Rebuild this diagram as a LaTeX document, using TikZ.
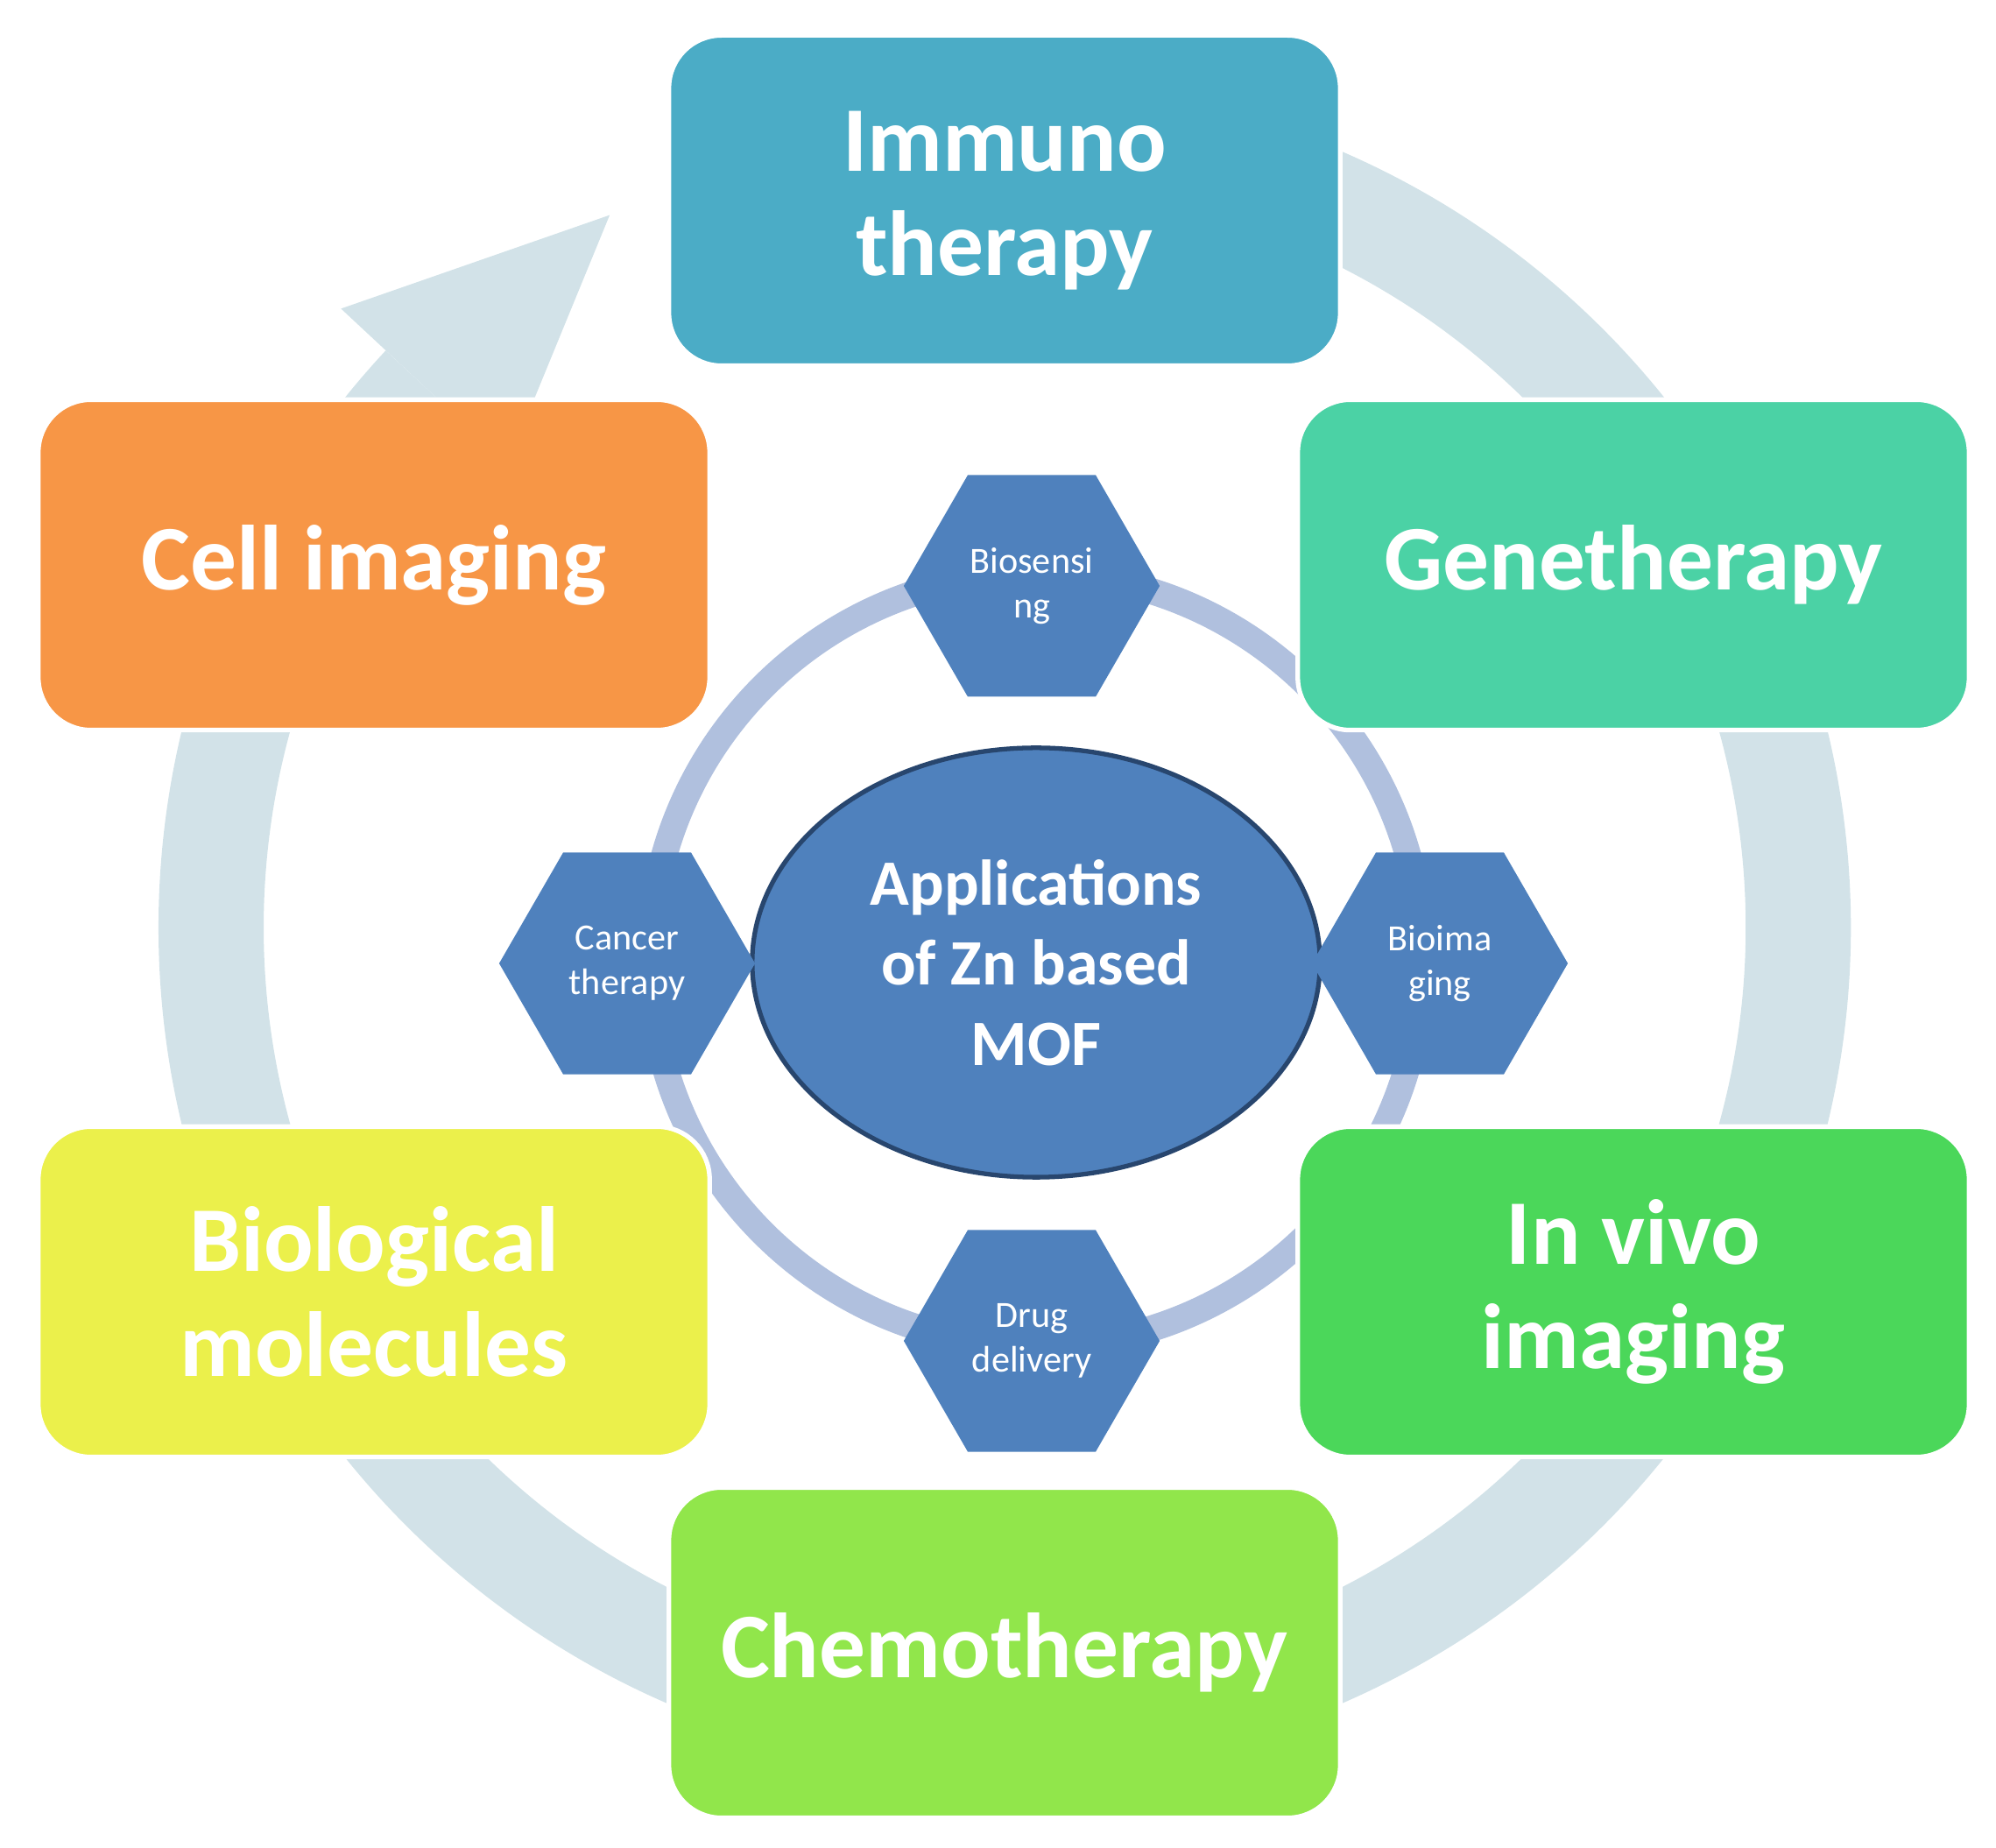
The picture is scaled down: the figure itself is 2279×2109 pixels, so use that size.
\documentclass[tikz,border=0pt]{standalone}
\usepackage{fontspec}
\setmainfont{Carlito}
\usetikzlibrary{shapes.geometric}
\definecolor{ringc}{RGB}{210,226,232}
\definecolor{iring}{RGB}{176,192,222}
\definecolor{hexc}{RGB}{79,129,189}
\definecolor{ellb}{RGB}{40,70,110}
\definecolor{cimm}{RGB}{75,172,198}
\definecolor{ccell}{RGB}{247,150,70}
\definecolor{cgene}{RGB}{75,210,165}
\definecolor{cbio}{RGB}{235,240,75}
\definecolor{cviv}{RGB}{75,215,90}
\definecolor{cchem}{RGB}{145,230,75}
\tikzset{
 box/.style={draw=white,line width=1.5pt,rounded corners=0.6cm,minimum width=7.66cm,minimum height=3.77cm,text=white,font=\fontsize{30}{34}\selectfont\bfseries,align=center},
 hex/.style={regular polygon,regular polygon sides=6,minimum size=2.92cm,inner sep=0pt,fill=hexc,text=white,font=\fontsize{12}{14.5}\selectfont,align=center},
}
\begin{document}
\begin{tikzpicture}[x=0.01cm,y=0.01cm]
\useasboundingbox (0,0) rectangle (2279,2109);
\coordinate (c) at (1147,1050);
% big ring with arrow
\draw[ringc,line width=1.2cm] ([shift={(70:906)}]c) arc[start angle=70,end angle=-223,radius=906];
\fill[ringc] ([shift={(137:1036)}]c) -- ([shift={(137:776)}]c) -- ([shift={(119:930)}]c) -- cycle;
% inner ring
\coordinate (ci) at (1183,1013);
\draw[iring,line width=0.3cm] (ci) circle[radius=441];
% boxes
\node[box,fill=cimm] (imm) at (1147,1880) {Immuno\\therapy};
\node[box,fill=ccell] (cell) at (427,1464) {Cell imaging};
\node[box,fill=cgene] (gene) at (1865,1464) {Genetherapy};
\node[box,fill=cbio] (bio) at (427,634) {Biological\\molecules};
\node[box,fill=cviv] (viv) at (1865,634) {In vivo\\imaging};
\node[box,fill=cchem] (chem) at (1147,222) {Chemotherapy};
% ellipse
\node[ellipse,draw=ellb,line width=1.5pt,fill=hexc,minimum width=6.48cm,minimum height=4.9cm,text=white,font=\fontsize{21}{26}\selectfont\bfseries,align=center] (mof) at (1183,1010) {Applications\\of Zn based\\MOF};
% hexagons
\node[hex] (bs) at (1178,1440) {Biosensi\\ng};
\node[hex] (ct) at (716,1009) {Cancer\\therapy};
\node[hex] (bi) at (1644,1009) {Bioima\\ging};
\node[hex] (dd) at (1178,578) {Drug\\delivery};
\end{tikzpicture}
\end{document}
